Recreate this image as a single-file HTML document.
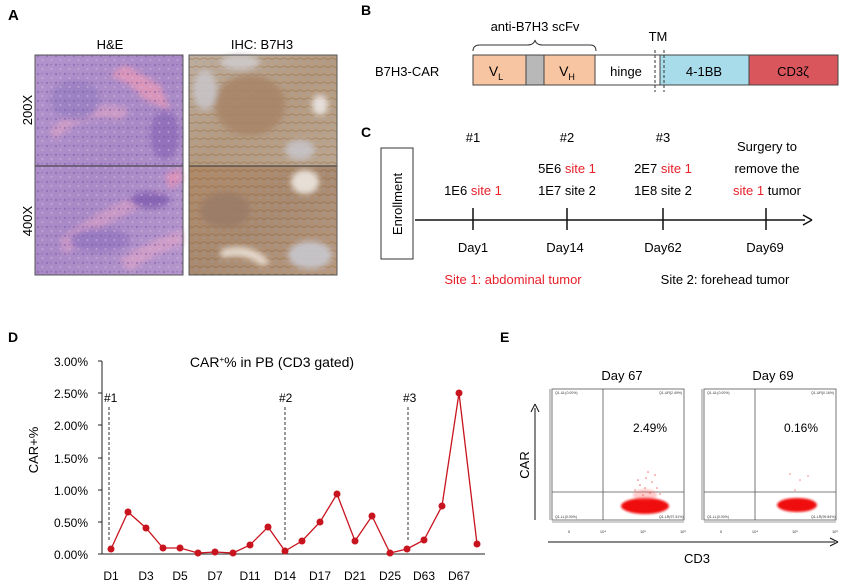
<!DOCTYPE html>
<html><head><meta charset="utf-8"><style>
html,body{margin:0;padding:0;background:#fff;}
svg{display:block;font-family:"Liberation Sans",sans-serif;}
.cal{font-family:"Liberation Sans","DejaVu Sans",sans-serif;}
</style></head><body>
<svg width="845" height="585" viewBox="0 0 845 585" xmlns="http://www.w3.org/2000/svg">
<defs>
<linearGradient id="he" x1="0" y1="0" x2="1" y2="1">
<stop offset="0" stop-color="#b393cc"/><stop offset="0.5" stop-color="#a98ac6"/><stop offset="1" stop-color="#b496cc"/></linearGradient>
<linearGradient id="ihc" x1="0" y1="0" x2="1" y2="1">
<stop offset="0" stop-color="#bdae9e"/><stop offset="0.5" stop-color="#b49a80"/><stop offset="1" stop-color="#bba690"/></linearGradient>
<linearGradient id="ihc2" x1="0" y1="0" x2="1" y2="1">
<stop offset="0" stop-color="#b08a68"/><stop offset="0.5" stop-color="#a88a70"/><stop offset="1" stop-color="#b89a80"/></linearGradient>
<pattern id="hep" width="9" height="9" patternUnits="userSpaceOnUse">
<circle cx="2" cy="2" r="1.2" fill="#7c5aa8" opacity="0.5"/><circle cx="6.5" cy="6" r="1" fill="#d8b4dc" opacity="0.6"/><circle cx="6" cy="1.5" r="0.8" fill="#6a4a98" opacity="0.4"/></pattern>
<pattern id="ihp" width="8" height="8" patternUnits="userSpaceOnUse">
<path d="M0 4 Q4 0 8 4" stroke="#8a5a30" stroke-width="0.8" fill="none" opacity="0.5"/><circle cx="4" cy="6" r="1.2" fill="#9aa0b0" opacity="0.4"/></pattern>
<filter id="bl"><feGaussianBlur stdDeviation="3"/></filter>
<filter id="bl1"><feGaussianBlur stdDeviation="1"/></filter>
</defs>

<!-- Panel A -->
<text x="8" y="20" font-size="15" font-weight="bold">A</text>
<text x="110" y="49" font-size="13" text-anchor="middle" class="cal">H&amp;E</text>
<text x="262" y="49" font-size="13" text-anchor="middle" class="cal">IHC: B7H3</text>
<text transform="translate(32,110) rotate(-90)" font-size="13" text-anchor="middle">200X</text>
<text transform="translate(32,221) rotate(-90)" font-size="13" text-anchor="middle">400X</text>
<g>
<rect x="35" y="55" width="148" height="220" fill="url(#he)"/>
<g filter="url(#bl)" opacity="0.8">
<path d="M110 75 L125 65 L160 85 L170 110 L145 100 L130 85 Z" fill="#e79ab8"/>
<path d="M50 130 Q90 95 130 110 L120 120 Q85 110 55 140 Z" fill="#d6a0c6"/>
<path d="M165 175 L180 168 L183 180 L170 190Z" fill="#e593b6"/>
<path d="M60 240 Q110 200 160 190 L165 200 Q110 215 65 255 Z" fill="#d29cc6"/>
<path d="M120 260 Q150 240 183 230 L183 245 Q150 255 130 272 Z" fill="#d8a2c8"/>
<ellipse cx="75" cy="100" rx="25" ry="20" fill="#9880c2"/>
<ellipse cx="165" cy="135" rx="15" ry="25" fill="#8c6cb8"/>
<ellipse cx="100" cy="240" rx="30" ry="12" fill="#9478c0"/>
<ellipse cx="150" cy="200" rx="20" ry="8" fill="#7e5cb0"/>
</g>
<rect x="35" y="55" width="148" height="220" fill="url(#hep)"/>
<rect x="189" y="55" width="148" height="111" fill="url(#ihc)"/>
<rect x="189" y="166" width="148" height="109" fill="url(#ihc2)"/>
<rect x="189" y="55" width="148" height="220" fill="url(#ihp)"/>
<g filter="url(#bl)" opacity="0.85">
<ellipse cx="250" cy="105" rx="35" ry="30" fill="#a88466"/>
<ellipse cx="205" cy="90" rx="12" ry="20" fill="#c9c6ca"/>
<ellipse cx="240" cy="62" rx="20" ry="8" fill="#cfccce"/>
<ellipse cx="320" cy="105" rx="8" ry="10" fill="#eeeae8"/>
<ellipse cx="305" cy="182" rx="14" ry="12" fill="#f2eee8"/>
<ellipse cx="300" cy="150" rx="15" ry="10" fill="#c8c6cc"/>
<ellipse cx="310" cy="255" rx="22" ry="14" fill="#c9cbd4"/>
<path d="M220 250 Q250 240 270 262 L262 266 Q245 252 222 258Z" fill="#efe6dc"/>
<ellipse cx="225" cy="210" rx="25" ry="18" fill="#9a7c68"/>
</g>
<line x1="35" y1="166" x2="183" y2="166" stroke="#333" stroke-width="1"/>
<line x1="189" y1="166" x2="337" y2="166" stroke="#333" stroke-width="1"/>
<rect x="35" y="55" width="148" height="220" fill="none" stroke="#555" stroke-width="1"/>
<rect x="189" y="55" width="148" height="220" fill="none" stroke="#555" stroke-width="1"/>
</g>

<!-- Panel B -->
<text x="361" y="15" font-size="14" font-weight="bold">B</text>
<text x="535" y="31" font-size="13" text-anchor="middle">anti-B7H3 scFv</text>
<path d="M473 51 Q473 45 480 45 L527 45 Q534 45 535 40 Q536 45 543 45 L590 45 Q596 45 596 51" fill="none" stroke="#333" stroke-width="1"/>
<text x="658" y="41" font-size="13" text-anchor="middle">TM</text>
<text x="375" y="76" font-size="13">B7H3-CAR</text>
<rect x="473" y="55" width="53" height="30" fill="#f8c5a2" stroke="#444"/>
<rect x="526" y="55" width="18" height="30" fill="#b8b8b8" stroke="#444"/>
<rect x="544" y="55" width="51" height="30" fill="#f8c5a2" stroke="#444"/>
<rect x="595" y="55" width="65" height="30" fill="#fff" stroke="#444"/>
<rect x="660" y="55" width="89" height="30" fill="#a9dcea" stroke="#444"/>
<rect x="749" y="55" width="89" height="30" fill="#d9565c" stroke="#444"/>
<line x1="655" y1="50" x2="655" y2="92" stroke="#333" stroke-dasharray="3,2"/>
<line x1="664" y1="50" x2="664" y2="92" stroke="#333" stroke-dasharray="3,2"/>
<text x="496" y="76" font-size="14" text-anchor="middle">V<tspan font-size="9" dy="4">L</tspan></text>
<text x="567" y="76" font-size="14" text-anchor="middle">V<tspan font-size="9" dy="4">H</tspan></text>
<text x="626" y="76" font-size="13" text-anchor="middle">hinge</text>
<text x="704" y="76" font-size="13" text-anchor="middle">4-1BB</text>
<text x="793" y="76" font-size="13" text-anchor="middle">CD3ζ</text>

<!-- Panel C -->
<text x="361" y="137" font-size="14" font-weight="bold">C</text>
<rect x="381" y="148" width="32" height="111" fill="#fff" stroke="#333"/>
<text transform="translate(402,204) rotate(-90)" font-size="13" text-anchor="middle">Enrollment</text>
<line x1="415" y1="220" x2="805" y2="220" stroke="#111" stroke-width="1.5"/>
<path d="M812 220 L803 215 M812 220 L803 225" stroke="#111" stroke-width="1.5"/>
<g stroke="#111" stroke-width="1.5">
<line x1="473" y1="208" x2="473" y2="230"/><line x1="567" y1="208" x2="567" y2="230"/>
<line x1="663" y1="208" x2="663" y2="230"/><line x1="766" y1="208" x2="766" y2="230"/></g>
<g font-size="13" text-anchor="middle">
<text x="473" y="142">#1</text><text x="567" y="142">#2</text><text x="663" y="142">#3</text>
<text x="473" y="195">1E6 <tspan fill="#e8202a">site 1</tspan></text>
<text x="567" y="173">5E6 <tspan fill="#e8202a">site 1</tspan></text>
<text x="567" y="195">1E7 site 2</text>
<text x="663" y="173">2E7 <tspan fill="#e8202a">site 1</tspan></text>
<text x="663" y="195">1E8 site 2</text>
<text x="767" y="151">Surgery to</text>
<text x="767" y="173">remove the</text>
<text x="767" y="195"><tspan fill="#e8202a">site 1</tspan> tumor</text>
<text x="473" y="252">Day1</text><text x="565" y="252">Day14</text>
<text x="663" y="252">Day62</text><text x="765" y="252">Day69</text>
<text x="513" y="284" fill="#e8202a">Site 1: abdominal tumor</text>
<text x="725" y="284">Site 2: forehead tumor</text>
</g>

<!-- Panel D -->
<text x="8" y="342" font-size="14" font-weight="bold">D</text>
<text x="272" y="367" font-size="14" text-anchor="middle">CAR<tspan font-size="8" dy="-5">+</tspan><tspan dy="5">%  in PB (CD3 gated)</tspan></text>
<text transform="translate(38,450) rotate(-90)" font-size="13" text-anchor="middle">CAR+%</text>
<g font-size="12" text-anchor="end">
<text x="88" y="366">3.00%</text><text x="88" y="398">2.50%</text><text x="88" y="430">2.00%</text>
<text x="88" y="463">1.50%</text><text x="88" y="495">1.00%</text><text x="88" y="527">0.50%</text>
<text x="88" y="559">0.00%</text></g>
<line x1="102" y1="361" x2="102" y2="554" stroke="#222"/>
<g stroke="#222"><line x1="98" y1="361" x2="102" y2="361"/><line x1="98" y1="393" x2="102" y2="393"/><line x1="98" y1="425" x2="102" y2="425"/><line x1="98" y1="458" x2="102" y2="458"/><line x1="98" y1="490" x2="102" y2="490"/><line x1="98" y1="522" x2="102" y2="522"/><line x1="98" y1="554" x2="102" y2="554"/></g>
<line x1="102" y1="554" x2="485" y2="554" stroke="#222"/>
<g stroke="#333" stroke-dasharray="3,2">
<line x1="109" y1="407" x2="109" y2="542"/><line x1="285" y1="407" x2="285" y2="540"/><line x1="408" y1="407" x2="408" y2="540"/></g>
<g font-size="12"><text x="104" y="402">#1</text><text x="279" y="402">#2</text><text x="403" y="402">#3</text></g>
<polyline fill="none" stroke="#c8141e" stroke-width="1.3" points="111,549 128,512 146,528 163,548 180,548 198,553 215,552 233,553 250,545 268,527 285,551 302,541 320,522 337,494 355,541 372,516 390,553 407,549 424,540 442,506 459,393 477,544"/>
<g fill="#c8141e">
<circle cx="111" cy="549" r="3.5"/><circle cx="128" cy="512" r="3.5"/><circle cx="146" cy="528" r="3.5"/><circle cx="163" cy="548" r="3.5"/><circle cx="180" cy="548" r="3.5"/><circle cx="198" cy="553" r="3.5"/><circle cx="215" cy="552" r="3.5"/><circle cx="233" cy="553" r="3.5"/><circle cx="250" cy="545" r="3.5"/><circle cx="268" cy="527" r="3.5"/><circle cx="285" cy="551" r="3.5"/><circle cx="302" cy="541" r="3.5"/><circle cx="320" cy="522" r="3.5"/><circle cx="337" cy="494" r="3.5"/><circle cx="355" cy="541" r="3.5"/><circle cx="372" cy="516" r="3.5"/><circle cx="390" cy="553" r="3.5"/><circle cx="407" cy="549" r="3.5"/><circle cx="424" cy="540" r="3.5"/><circle cx="442" cy="506" r="3.5"/><circle cx="459" cy="393" r="3.5"/><circle cx="477" cy="544" r="3.5"/></g>
<g font-size="12" text-anchor="middle">
<text x="111" y="580">D1</text><text x="146" y="580">D3</text><text x="180" y="580">D5</text><text x="215" y="580">D7</text><text x="250" y="580">D11</text><text x="285" y="580">D14</text><text x="320" y="580">D17</text><text x="355" y="580">D21</text><text x="390" y="580">D25</text><text x="424" y="580">D63</text><text x="459" y="580">D67</text></g>

<!-- Panel E -->
<text x="500" y="342" font-size="14" font-weight="bold">E</text>
<text x="622" y="380" font-size="13" text-anchor="middle">Day 67</text>
<text x="773" y="380" font-size="13" text-anchor="middle">Day 69</text>
<line x1="535" y1="520" x2="535" y2="408" stroke="#111"/>
<path d="M535 404 L531 412 M535 404 L539 412" stroke="#111"/>
<text transform="translate(529,465) rotate(-90)" font-size="13" text-anchor="middle">CAR</text>
<line x1="548" y1="542" x2="835" y2="542" stroke="#111"/>
<path d="M838 542 L830 538 M838 542 L830 546" stroke="#111"/>
<text x="697" y="563" font-size="13" text-anchor="middle">CD3</text>
<g>
<rect x="552" y="389" width="132" height="131" fill="#fff" stroke="#555" stroke-width="0.8"/>
<line x1="603" y1="389" x2="603" y2="520" stroke="#555" stroke-width="0.8"/>
<line x1="552" y1="492" x2="684" y2="492" stroke="#555" stroke-width="0.8"/>
<g filter="url(#bl1)" fill="#f01010"><ellipse cx="645" cy="506" rx="24" ry="8"/></g>
<g fill="#f03030" opacity="0.7">
<circle cx="640" cy="485" r="0.8"/><circle cx="646" cy="478" r="0.8"/><circle cx="652" cy="482" r="0.8"/><circle cx="635" cy="490" r="0.8"/><circle cx="657" cy="488" r="0.8"/><circle cx="648" cy="472" r="0.8"/><circle cx="643" cy="495" r="0.8"/><circle cx="650" cy="493" r="0.8"/><circle cx="638" cy="480" r="0.8"/><circle cx="655" cy="475" r="0.8"/><circle cx="645" cy="488" r="0.8"/><circle cx="660" cy="494" r="0.8"/></g>
<ellipse cx="645" cy="495" rx="12" ry="6" fill="#f55" opacity="0.3" filter="url(#bl1)"/>
<text x="650" y="432" font-size="12" text-anchor="middle">2.49%</text>
<g font-size="3.5" fill="#333"><text x="555" y="394">Q1-UL(0.00%)</text><text x="659" y="394">Q1-UR(2.49%)</text><text x="555" y="518">Q1-LL(0.00%)</text><text x="659" y="518">Q1-LR(97.51%)</text></g>
</g>
<g>
<rect x="704" y="389" width="132" height="131" fill="#fff" stroke="#555" stroke-width="0.8"/>
<line x1="755" y1="389" x2="755" y2="520" stroke="#555" stroke-width="0.8"/>
<line x1="704" y1="492" x2="836" y2="492" stroke="#555" stroke-width="0.8"/>
<g filter="url(#bl1)" fill="#f01010"><ellipse cx="797" cy="505" rx="20" ry="7"/></g>
<g fill="#f03030" opacity="0.6"><circle cx="790" cy="474" r="0.8"/><circle cx="800" cy="480" r="0.8"/><circle cx="808" cy="476" r="0.8"/><circle cx="795" cy="490" r="0.8"/></g>
<text x="801" y="432" font-size="12" text-anchor="middle">0.16%</text>
<g font-size="3.5" fill="#333"><text x="707" y="394">Q1-UL(0.00%)</text><text x="811" y="394">Q1-UR(0.16%)</text><text x="707" y="518">Q1-LL(0.00%)</text><text x="811" y="518">Q1-LR(99.84%)</text></g>
</g>
<g font-size="4" fill="#333" text-anchor="middle">
<text x="569" y="533">0</text><text x="603" y="533">10⁴</text><text x="643" y="533">10⁵</text><text x="683" y="533">10⁶</text>
<text x="721" y="533">0</text><text x="755" y="533">10⁴</text><text x="795" y="533">10⁵</text><text x="835" y="533">10⁶</text></g>
<g stroke="#444" stroke-width="0.6">
<line x1="552" y1="522" x2="684" y2="522"/><line x1="704" y1="522" x2="836" y2="522"/>
<line x1="550" y1="389" x2="550" y2="520"/><line x1="702" y1="389" x2="702" y2="520"/></g>
</svg>
</body></html>
